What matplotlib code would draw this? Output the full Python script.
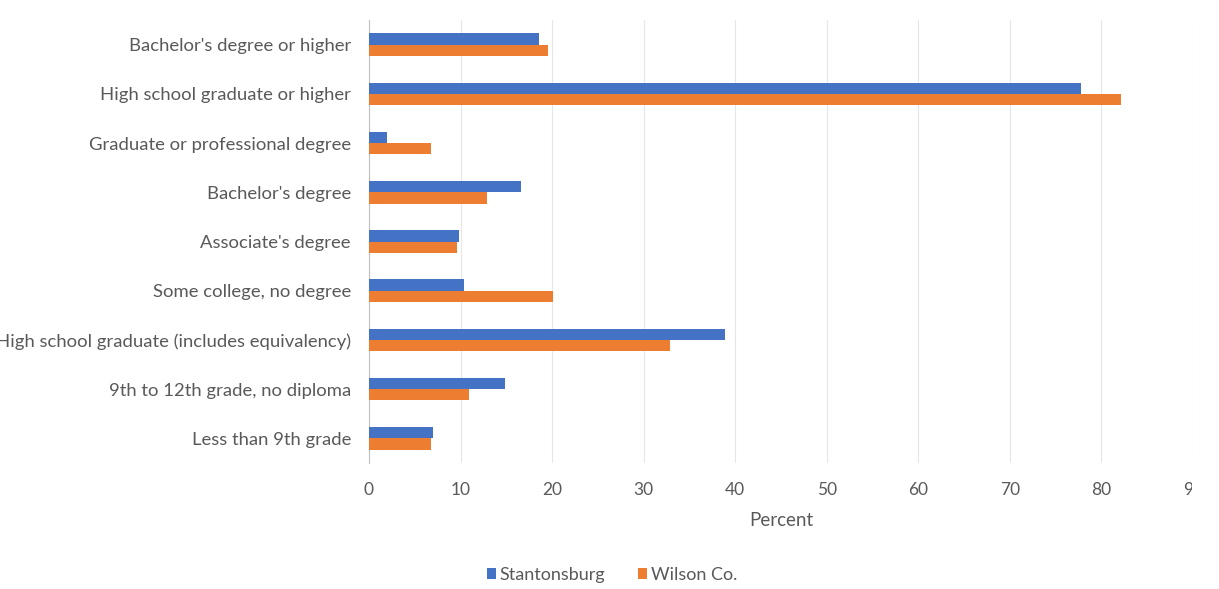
import numpy as np
import matplotlib.pyplot as plt
from matplotlib.transforms import Bbox

categories = [
    "Less than 9th grade",
    "9th to 12th grade, no diploma",
    "High school graduate (includes equivalency)",
    "Some college, no degree",
    "Associate's degree",
    "Bachelor's degree",
    "Graduate or professional degree",
    "High school graduate or higher",
    "Bachelor's degree or higher",
]
stantonsburg = [7.0, 14.9, 38.9, 10.4, 9.8, 16.6, 2.0, 77.8, 18.6]
wilson = [6.8, 10.9, 32.9, 20.1, 9.6, 12.9, 6.8, 82.1, 19.6]
xticks = [0, 10, 20, 30, 40, 50, 60, 70, 80, 90]

blue = "#4472C4"
orange = "#ED7D31"
grey = "#595959"

plt.rcParams['font.family'] = ['Lato', 'DejaVu Sans']

W, H = 1219, 589
fig = plt.figure(figsize=(W / 100, H / 100), dpi=100)
ax = fig.add_axes([369 / W, 1 - 463 / H, (1193 - 369) / W, (463 - 20) / H])

y = np.arange(len(categories))
h = 0.23
ax.barh(y + h / 2, stantonsburg, height=h, color=blue, label="Stantonsburg", zorder=3)
ax.barh(y - h / 2, wilson, height=h, color=orange, label="Wilson Co.", zorder=3)

ax.set_xlim(0, 90)
ax.set_ylim(-0.5, len(categories) - 0.5)
ax.set_xticks(xticks)
ax.set_yticks(y)
ax.set_yticklabels(categories)
ax.grid(axis='x', color='#E6E6E6', linewidth=0.8, zorder=0)
for s in ['top', 'right', 'bottom']:
    ax.spines[s].set_visible(False)
ax.spines['left'].set_color('#BFBFBF')
ax.tick_params(axis='both', length=0, colors=grey)
ax.tick_params(axis='x', pad=14, labelsize=12.5)
ax.tick_params(axis='y', pad=13, labelsize=13.3)
ax.set_xlabel("Percent", color=grey, fontsize=13.5, labelpad=10)

clip = Bbox.from_extents(0, 0, 1192, H)
for lab in ax.get_xticklabels():
    lab.set_clip_on(True)
    lab.set_clip_box(clip)

ax.legend(loc='center', bbox_to_anchor=(612 / W, 1 - 575 / H), bbox_transform=fig.transFigure,
          ncol=2, frameon=False, handlelength=0.5, handleheight=0.5, handletextpad=0.2,
          columnspacing=1.8, labelcolor=grey, fontsize=13)

fig.savefig("out.png", dpi=100)
